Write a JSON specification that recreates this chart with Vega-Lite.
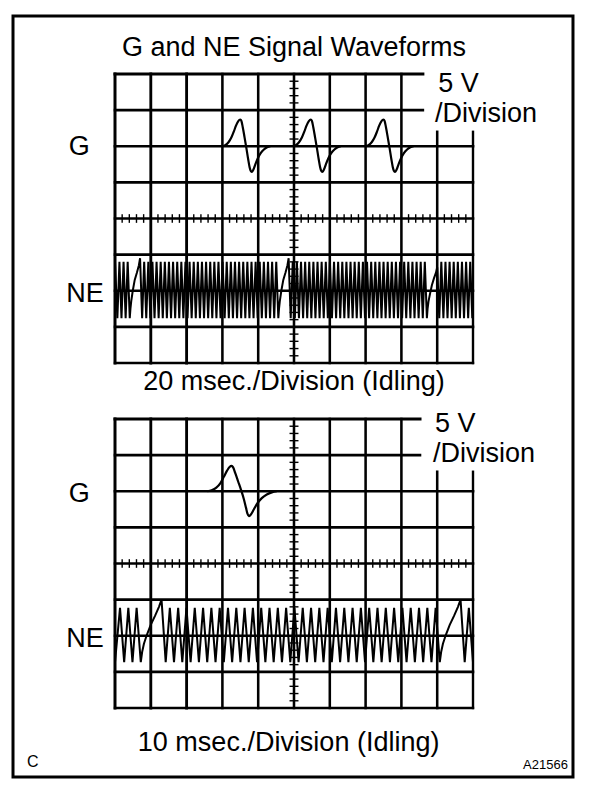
{
 "$schema": "https://vega.github.io/schema/vega-lite/v6.json",
 "width": 608, "height": 786,
 "autosize": {"type": "fit", "contains": "padding"},
 "padding": 0,
 "background": "white",
 "config": {"view": {"stroke": null}},
 "datasets": {
  "frame": [{"x": -2.849, "x2": 12.793, "y": -1.91, "y2": 19.156}],
  "grid": [
   {"x":0,"x2":0,"y":9.55,"y2":17.55,"k":"edge"},
   {"x":1,"x2":1,"y":9.55,"y2":17.55,"k":"major"},
   {"x":2,"x2":2,"y":9.55,"y2":17.55,"k":"major"},
   {"x":3,"x2":3,"y":9.55,"y2":17.55,"k":"grid"},
   {"x":4,"x2":4,"y":9.55,"y2":17.55,"k":"grid"},
   {"x":5,"x2":5,"y":9.55,"y2":17.55,"k":"grid"},
   {"x":6,"x2":6,"y":9.55,"y2":17.55,"k":"grid"},
   {"x":7,"x2":7,"y":9.55,"y2":17.55,"k":"grid"},
   {"x":8,"x2":8,"y":9.55,"y2":17.55,"k":"grid"},
   {"x":9,"x2":9,"y":9.55,"y2":15.95,"k":"grid"},
   {"x":10,"x2":10,"y":9.55,"y2":15.95,"k":"edge2"},
   {"x":0,"x2":8.6,"y":17.55,"y2":17.55,"k":"edge"},
   {"x":0,"x2":8.6,"y":16.55,"y2":16.55,"k":"grid"},
   {"x":0,"x2":10,"y":15.55,"y2":15.55,"k":"base"},
   {"x":0,"x2":10,"y":14.55,"y2":14.55,"k":"grid"},
   {"x":0,"x2":10,"y":13.55,"y2":13.55,"k":"grid"},
   {"x":0,"x2":10,"y":12.55,"y2":12.55,"k":"grid"},
   {"x":0,"x2":10,"y":11.55,"y2":11.55,"k":"grid"},
   {"x":0,"x2":10,"y":10.55,"y2":10.55,"k":"grid"},
   {"x":0,"x2":10,"y":9.55,"y2":9.55,"k":"edge2"},
   {"x":0,"x2":0,"y":0,"y2":8,"k":"edge"},
   {"x":1,"x2":1,"y":0,"y2":8,"k":"major"},
   {"x":2,"x2":2,"y":0,"y2":8,"k":"major"},
   {"x":3,"x2":3,"y":0,"y2":8,"k":"grid"},
   {"x":4,"x2":4,"y":0,"y2":8,"k":"grid"},
   {"x":5,"x2":5,"y":0,"y2":8,"k":"grid"},
   {"x":6,"x2":6,"y":0,"y2":8,"k":"grid"},
   {"x":7,"x2":7,"y":0,"y2":8,"k":"grid"},
   {"x":8,"x2":8,"y":0,"y2":8,"k":"grid"},
   {"x":9,"x2":9,"y":0,"y2":6.54,"k":"grid"},
   {"x":10,"x2":10,"y":0,"y2":6.54,"k":"edge2"},
   {"x":0,"x2":8.52,"y":8,"y2":8,"k":"edge"},
   {"x":0,"x2":8.52,"y":7,"y2":7,"k":"grid"},
   {"x":0,"x2":10,"y":6,"y2":6,"k":"base"},
   {"x":0,"x2":10,"y":5,"y2":5,"k":"grid"},
   {"x":0,"x2":10,"y":4,"y2":4,"k":"grid"},
   {"x":0,"x2":10,"y":3,"y2":3,"k":"grid"},
   {"x":0,"x2":10,"y":2,"y2":2,"k":"grid"},
   {"x":0,"x2":10,"y":1,"y2":1,"k":"grid"},
   {"x":0,"x2":10,"y":0,"y2":0,"k":"edge2"}
  ],
  "vt": [
   {"x":4.875,"x2":5.125,"y":0.2},{"x":4.875,"x2":5.125,"y":0.4},{"x":4.875,"x2":5.125,"y":0.6},{"x":4.875,"x2":5.125,"y":0.8},
   {"x":4.875,"x2":5.125,"y":1.2},{"x":4.875,"x2":5.125,"y":1.4},{"x":4.875,"x2":5.125,"y":1.6},{"x":4.875,"x2":5.125,"y":1.8},
   {"x":4.875,"x2":5.125,"y":2.2},{"x":4.875,"x2":5.125,"y":2.4},{"x":4.875,"x2":5.125,"y":2.6},{"x":4.875,"x2":5.125,"y":2.8},
   {"x":4.875,"x2":5.125,"y":3.2},{"x":4.875,"x2":5.125,"y":3.4},{"x":4.875,"x2":5.125,"y":3.6},{"x":4.875,"x2":5.125,"y":3.8},
   {"x":4.875,"x2":5.125,"y":4.2},{"x":4.875,"x2":5.125,"y":4.4},{"x":4.875,"x2":5.125,"y":4.6},{"x":4.875,"x2":5.125,"y":4.8},
   {"x":4.875,"x2":5.125,"y":5.2},{"x":4.875,"x2":5.125,"y":5.4},{"x":4.875,"x2":5.125,"y":5.6},{"x":4.875,"x2":5.125,"y":5.8},
   {"x":4.875,"x2":5.125,"y":6.2},{"x":4.875,"x2":5.125,"y":6.4},{"x":4.875,"x2":5.125,"y":6.6},{"x":4.875,"x2":5.125,"y":6.8},
   {"x":4.875,"x2":5.125,"y":7.2},{"x":4.875,"x2":5.125,"y":7.4},{"x":4.875,"x2":5.125,"y":7.6},{"x":4.875,"x2":5.125,"y":7.8},
   {"x":4.875,"x2":5.125,"y":9.75},{"x":4.875,"x2":5.125,"y":9.95},{"x":4.875,"x2":5.125,"y":10.15},{"x":4.875,"x2":5.125,"y":10.35},
   {"x":4.875,"x2":5.125,"y":10.75},{"x":4.875,"x2":5.125,"y":10.95},{"x":4.875,"x2":5.125,"y":11.15},{"x":4.875,"x2":5.125,"y":11.35},
   {"x":4.875,"x2":5.125,"y":11.75},{"x":4.875,"x2":5.125,"y":11.95},{"x":4.875,"x2":5.125,"y":12.15},{"x":4.875,"x2":5.125,"y":12.35},
   {"x":4.875,"x2":5.125,"y":12.75},{"x":4.875,"x2":5.125,"y":12.95},{"x":4.875,"x2":5.125,"y":13.15},{"x":4.875,"x2":5.125,"y":13.35},
   {"x":4.875,"x2":5.125,"y":13.75},{"x":4.875,"x2":5.125,"y":13.95},{"x":4.875,"x2":5.125,"y":14.15},{"x":4.875,"x2":5.125,"y":14.35},
   {"x":4.875,"x2":5.125,"y":14.75},{"x":4.875,"x2":5.125,"y":14.95},{"x":4.875,"x2":5.125,"y":15.15},{"x":4.875,"x2":5.125,"y":15.35},
   {"x":4.875,"x2":5.125,"y":15.75},{"x":4.875,"x2":5.125,"y":15.95},{"x":4.875,"x2":5.125,"y":16.15},{"x":4.875,"x2":5.125,"y":16.35},
   {"x":4.875,"x2":5.125,"y":16.75},{"x":4.875,"x2":5.125,"y":16.95},{"x":4.875,"x2":5.125,"y":17.15},{"x":4.875,"x2":5.125,"y":17.35}
  ],
  "ht": [
   {"x":0.2,"y":13.43,"y2":13.67},{"x":0.4,"y":13.43,"y2":13.67},{"x":0.6,"y":13.43,"y2":13.67},{"x":0.8,"y":13.43,"y2":13.67},
   {"x":1.2,"y":13.43,"y2":13.67},{"x":1.4,"y":13.43,"y2":13.67},{"x":1.6,"y":13.43,"y2":13.67},{"x":1.8,"y":13.43,"y2":13.67},
   {"x":2.2,"y":13.43,"y2":13.67},{"x":2.4,"y":13.43,"y2":13.67},{"x":2.6,"y":13.43,"y2":13.67},{"x":2.8,"y":13.43,"y2":13.67},
   {"x":3.2,"y":13.43,"y2":13.67},{"x":3.4,"y":13.43,"y2":13.67},{"x":3.6,"y":13.43,"y2":13.67},{"x":3.8,"y":13.43,"y2":13.67},
   {"x":4.2,"y":13.43,"y2":13.67},{"x":4.4,"y":13.43,"y2":13.67},{"x":4.6,"y":13.43,"y2":13.67},{"x":4.8,"y":13.43,"y2":13.67},
   {"x":5.2,"y":13.43,"y2":13.67},{"x":5.4,"y":13.43,"y2":13.67},{"x":5.6,"y":13.43,"y2":13.67},{"x":5.8,"y":13.43,"y2":13.67},
   {"x":6.2,"y":13.43,"y2":13.67},{"x":6.4,"y":13.43,"y2":13.67},{"x":6.6,"y":13.43,"y2":13.67},{"x":6.8,"y":13.43,"y2":13.67},
   {"x":7.2,"y":13.43,"y2":13.67},{"x":7.4,"y":13.43,"y2":13.67},{"x":7.6,"y":13.43,"y2":13.67},{"x":7.8,"y":13.43,"y2":13.67},
   {"x":8.2,"y":13.43,"y2":13.67},{"x":8.4,"y":13.43,"y2":13.67},{"x":8.6,"y":13.43,"y2":13.67},{"x":8.8,"y":13.43,"y2":13.67},
   {"x":9.2,"y":13.43,"y2":13.67},{"x":9.4,"y":13.43,"y2":13.67},{"x":9.6,"y":13.43,"y2":13.67},{"x":9.8,"y":13.43,"y2":13.67},
   {"x":0.2,"y":3.88,"y2":4.12},{"x":0.4,"y":3.88,"y2":4.12},{"x":0.6,"y":3.88,"y2":4.12},{"x":0.8,"y":3.88,"y2":4.12},
   {"x":1.2,"y":3.88,"y2":4.12},{"x":1.4,"y":3.88,"y2":4.12},{"x":1.6,"y":3.88,"y2":4.12},{"x":1.8,"y":3.88,"y2":4.12},
   {"x":2.2,"y":3.88,"y2":4.12},{"x":2.4,"y":3.88,"y2":4.12},{"x":2.6,"y":3.88,"y2":4.12},{"x":2.8,"y":3.88,"y2":4.12},
   {"x":3.2,"y":3.88,"y2":4.12},{"x":3.4,"y":3.88,"y2":4.12},{"x":3.6,"y":3.88,"y2":4.12},{"x":3.8,"y":3.88,"y2":4.12},
   {"x":4.2,"y":3.88,"y2":4.12},{"x":4.4,"y":3.88,"y2":4.12},{"x":4.6,"y":3.88,"y2":4.12},{"x":4.8,"y":3.88,"y2":4.12},
   {"x":5.2,"y":3.88,"y2":4.12},{"x":5.4,"y":3.88,"y2":4.12},{"x":5.6,"y":3.88,"y2":4.12},{"x":5.8,"y":3.88,"y2":4.12},
   {"x":6.2,"y":3.88,"y2":4.12},{"x":6.4,"y":3.88,"y2":4.12},{"x":6.6,"y":3.88,"y2":4.12},{"x":6.8,"y":3.88,"y2":4.12},
   {"x":7.2,"y":3.88,"y2":4.12},{"x":7.4,"y":3.88,"y2":4.12},{"x":7.6,"y":3.88,"y2":4.12},{"x":7.8,"y":3.88,"y2":4.12},
   {"x":8.2,"y":3.88,"y2":4.12},{"x":8.4,"y":3.88,"y2":4.12},{"x":8.6,"y":3.88,"y2":4.12},{"x":8.8,"y":3.88,"y2":4.12},
   {"x":9.2,"y":3.88,"y2":4.12},{"x":9.4,"y":3.88,"y2":4.12},{"x":9.6,"y":3.88,"y2":4.12},{"x":9.8,"y":3.88,"y2":4.12}
  ],
  "g": [
   {"p":1,"x":3.00,"y":15.55},{"p":1,"x":3.08,"y":15.58},{"p":1,"x":3.17,"y":15.66},{"p":1,"x":3.25,"y":15.79},{"p":1,"x":3.32,"y":15.96},{"p":1,"x":3.38,"y":16.12},{"p":1,"x":3.44,"y":16.24},{"p":1,"x":3.50,"y":16.29},{"p":1,"x":3.53,"y":16.25},{"p":1,"x":3.57,"y":16.07},{"p":1,"x":3.62,"y":15.79},{"p":1,"x":3.67,"y":15.50},{"p":1,"x":3.72,"y":15.19},{"p":1,"x":3.76,"y":14.97},{"p":1,"x":3.79,"y":14.87},{"p":1,"x":3.82,"y":14.84},{"p":1,"x":3.86,"y":14.89},{"p":1,"x":3.92,"y":15.05},{"p":1,"x":3.99,"y":15.22},{"p":1,"x":4.07,"y":15.36},{"p":1,"x":4.16,"y":15.46},{"p":1,"x":4.25,"y":15.52},{"p":1,"x":4.34,"y":15.55},
   {"p":2,"x":4.97,"y":15.55},{"p":2,"x":5.05,"y":15.58},{"p":2,"x":5.14,"y":15.66},{"p":2,"x":5.22,"y":15.79},{"p":2,"x":5.29,"y":15.96},{"p":2,"x":5.35,"y":16.12},{"p":2,"x":5.41,"y":16.24},{"p":2,"x":5.47,"y":16.29},{"p":2,"x":5.50,"y":16.25},{"p":2,"x":5.54,"y":16.07},{"p":2,"x":5.59,"y":15.79},{"p":2,"x":5.64,"y":15.50},{"p":2,"x":5.69,"y":15.19},{"p":2,"x":5.73,"y":14.97},{"p":2,"x":5.76,"y":14.87},{"p":2,"x":5.79,"y":14.84},{"p":2,"x":5.83,"y":14.89},{"p":2,"x":5.89,"y":15.05},{"p":2,"x":5.96,"y":15.22},{"p":2,"x":6.04,"y":15.36},{"p":2,"x":6.13,"y":15.46},{"p":2,"x":6.22,"y":15.52},{"p":2,"x":6.31,"y":15.55},
   {"p":3,"x":7.00,"y":15.55},{"p":3,"x":7.08,"y":15.58},{"p":3,"x":7.17,"y":15.66},{"p":3,"x":7.25,"y":15.79},{"p":3,"x":7.32,"y":15.96},{"p":3,"x":7.38,"y":16.12},{"p":3,"x":7.44,"y":16.24},{"p":3,"x":7.50,"y":16.29},{"p":3,"x":7.53,"y":16.25},{"p":3,"x":7.57,"y":16.07},{"p":3,"x":7.62,"y":15.79},{"p":3,"x":7.67,"y":15.50},{"p":3,"x":7.72,"y":15.19},{"p":3,"x":7.76,"y":14.97},{"p":3,"x":7.79,"y":14.87},{"p":3,"x":7.82,"y":14.84},{"p":3,"x":7.86,"y":14.89},{"p":3,"x":7.92,"y":15.05},{"p":3,"x":7.99,"y":15.22},{"p":3,"x":8.07,"y":15.36},{"p":3,"x":8.16,"y":15.46},{"p":3,"x":8.25,"y":15.52},{"p":3,"x":8.34,"y":15.55},
   {"p":4,"x":2.58,"y":6.00},{"p":4,"x":2.70,"y":6.03},{"p":4,"x":2.83,"y":6.10},{"p":4,"x":2.94,"y":6.22},{"p":4,"x":3.04,"y":6.40},{"p":4,"x":3.13,"y":6.57},{"p":4,"x":3.20,"y":6.67},{"p":4,"x":3.26,"y":6.70},{"p":4,"x":3.30,"y":6.66},{"p":4,"x":3.36,"y":6.50},{"p":4,"x":3.44,"y":6.27},{"p":4,"x":3.52,"y":6.04},{"p":4,"x":3.60,"y":5.78},{"p":4,"x":3.66,"y":5.54},{"p":4,"x":3.70,"y":5.38},{"p":4,"x":3.74,"y":5.31},{"p":4,"x":3.79,"y":5.35},{"p":4,"x":3.88,"y":5.50},{"p":4,"x":3.98,"y":5.67},{"p":4,"x":4.10,"y":5.81},{"p":4,"x":4.24,"y":5.91},{"p":4,"x":4.38,"y":5.97},{"p":4,"x":4.52,"y":6.00}
  ],
  "neTop": [
   {"x":0.000,"y":12.35},{"x":0.066,"y":10.79},{"x":0.124,"y":12.35},{"x":0.181,"y":10.79},{"x":0.239,"y":12.35},{"x":0.297,"y":10.79},{"x":0.354,"y":12.35},{"x":0.412,"y":10.79},
   {"x":0.431,"y":11.05},{"x":0.456,"y":11.28},{"x":0.496,"y":11.55},{"x":0.551,"y":11.85},{"x":0.611,"y":12.05},{"x":0.666,"y":12.25},{"x":0.700,"y":12.45},
   {"x":0.758,"y":10.79},{"x":0.815,"y":12.35},{"x":0.873,"y":10.79},{"x":0.931,"y":12.35},{"x":0.988,"y":10.79},{"x":1.046,"y":12.35},{"x":1.104,"y":10.79},{"x":1.161,"y":12.35},{"x":1.219,"y":10.79},{"x":1.276,"y":12.35},
   {"x":1.334,"y":10.79},{"x":1.392,"y":12.35},{"x":1.449,"y":10.79},{"x":1.507,"y":12.35},{"x":1.565,"y":10.79},{"x":1.622,"y":12.35},{"x":1.680,"y":10.79},{"x":1.738,"y":12.35},{"x":1.795,"y":10.79},{"x":1.853,"y":12.35},
   {"x":1.910,"y":10.79},{"x":1.968,"y":12.35},{"x":2.026,"y":10.79},{"x":2.083,"y":12.35},{"x":2.141,"y":10.79},{"x":2.199,"y":12.35},{"x":2.256,"y":10.79},{"x":2.314,"y":12.35},{"x":2.372,"y":10.79},{"x":2.429,"y":12.35},
   {"x":2.487,"y":10.79},{"x":2.544,"y":12.35},{"x":2.602,"y":10.79},{"x":2.660,"y":12.35},{"x":2.717,"y":10.79},{"x":2.775,"y":12.35},{"x":2.833,"y":10.79},{"x":2.890,"y":12.35},{"x":2.948,"y":10.79},{"x":3.006,"y":12.35},
   {"x":3.063,"y":10.79},{"x":3.121,"y":12.35},{"x":3.179,"y":10.79},{"x":3.236,"y":12.35},{"x":3.294,"y":10.79},{"x":3.351,"y":12.35},{"x":3.409,"y":10.79},{"x":3.467,"y":12.35},{"x":3.524,"y":10.79},{"x":3.582,"y":12.35},
   {"x":3.640,"y":10.79},{"x":3.697,"y":12.35},{"x":3.755,"y":10.79},{"x":3.813,"y":12.35},{"x":3.870,"y":10.79},{"x":3.928,"y":12.35},{"x":3.985,"y":10.79},{"x":4.043,"y":12.35},{"x":4.101,"y":10.79},{"x":4.158,"y":12.35},
   {"x":4.216,"y":10.79},{"x":4.274,"y":12.35},{"x":4.331,"y":10.79},{"x":4.389,"y":12.35},{"x":4.447,"y":10.79},{"x":4.504,"y":12.35},{"x":4.562,"y":10.79},
   {"x":4.581,"y":11.05},{"x":4.606,"y":11.28},{"x":4.646,"y":11.55},{"x":4.701,"y":11.85},{"x":4.761,"y":12.05},{"x":4.816,"y":12.25},{"x":4.850,"y":12.45},
   {"x":4.908,"y":10.79},{"x":4.965,"y":12.35},{"x":5.023,"y":10.79},{"x":5.081,"y":12.35},{"x":5.138,"y":10.79},{"x":5.196,"y":12.35},{"x":5.254,"y":10.79},{"x":5.311,"y":12.35},{"x":5.369,"y":10.79},{"x":5.426,"y":12.35},
   {"x":5.484,"y":10.79},{"x":5.542,"y":12.35},{"x":5.599,"y":10.79},{"x":5.657,"y":12.35},{"x":5.715,"y":10.79},{"x":5.772,"y":12.35},{"x":5.830,"y":10.79},{"x":5.888,"y":12.35},{"x":5.945,"y":10.79},{"x":6.003,"y":12.35},
   {"x":6.060,"y":10.79},{"x":6.118,"y":12.35},{"x":6.176,"y":10.79},{"x":6.233,"y":12.35},{"x":6.291,"y":10.79},{"x":6.349,"y":12.35},{"x":6.406,"y":10.79},{"x":6.464,"y":12.35},{"x":6.522,"y":10.79},{"x":6.579,"y":12.35},
   {"x":6.637,"y":10.79},{"x":6.694,"y":12.35},{"x":6.752,"y":10.79},{"x":6.810,"y":12.35},{"x":6.867,"y":10.79},{"x":6.925,"y":12.35},{"x":6.983,"y":10.79},{"x":7.040,"y":12.35},{"x":7.098,"y":10.79},{"x":7.156,"y":12.35},
   {"x":7.213,"y":10.79},{"x":7.271,"y":12.35},{"x":7.329,"y":10.79},{"x":7.386,"y":12.35},{"x":7.444,"y":10.79},{"x":7.501,"y":12.35},{"x":7.559,"y":10.79},{"x":7.617,"y":12.35},{"x":7.674,"y":10.79},{"x":7.732,"y":12.35},
   {"x":7.790,"y":10.79},{"x":7.847,"y":12.35},{"x":7.905,"y":10.79},{"x":7.963,"y":12.35},{"x":8.020,"y":10.79},{"x":8.078,"y":12.35},{"x":8.135,"y":10.79},{"x":8.193,"y":12.35},{"x":8.251,"y":10.79},{"x":8.308,"y":12.35},
   {"x":8.366,"y":10.79},{"x":8.424,"y":12.35},{"x":8.481,"y":10.79},{"x":8.539,"y":12.35},{"x":8.597,"y":10.79},{"x":8.654,"y":12.35},{"x":8.712,"y":10.79},
   {"x":8.731,"y":11.05},{"x":8.756,"y":11.25},{"x":8.796,"y":11.45},{"x":8.851,"y":11.70},{"x":8.911,"y":11.90},{"x":8.966,"y":12.05},{"x":9.000,"y":12.20},
   {"x":9.058,"y":10.79},{"x":9.115,"y":12.35},{"x":9.173,"y":10.79},{"x":9.231,"y":12.35},{"x":9.288,"y":10.79},{"x":9.346,"y":12.35},{"x":9.404,"y":10.79},{"x":9.461,"y":12.35},{"x":9.519,"y":10.79},{"x":9.576,"y":12.35},
   {"x":9.634,"y":10.79},{"x":9.692,"y":12.35},{"x":9.749,"y":10.79},{"x":9.807,"y":12.35},{"x":9.865,"y":10.79},{"x":9.922,"y":12.35},{"x":9.980,"y":10.79},{"x":10.000,"y":11.30}
  ],
  "neBot": [
   {"x":0.000,"y":1.27},{"x":0.140,"y":2.77},{"x":0.256,"y":1.27},{"x":0.372,"y":2.77},{"x":0.488,"y":1.27},{"x":0.604,"y":2.77},{"x":0.720,"y":1.27},
   {"x":0.758,"y":1.55},{"x":0.808,"y":1.78},{"x":0.888,"y":2.02},{"x":0.998,"y":2.30},{"x":1.118,"y":2.55},{"x":1.228,"y":2.80},{"x":1.300,"y":3.00},
   {"x":1.416,"y":1.27},{"x":1.532,"y":2.77},{"x":1.648,"y":1.27},{"x":1.764,"y":2.77},{"x":1.880,"y":1.27},{"x":1.996,"y":2.77},{"x":2.112,"y":1.27},{"x":2.228,"y":2.77},{"x":2.344,"y":1.27},{"x":2.460,"y":2.77},
   {"x":2.576,"y":1.27},{"x":2.692,"y":2.77},{"x":2.808,"y":1.27},{"x":2.924,"y":2.77},{"x":3.040,"y":1.27},{"x":3.156,"y":2.77},{"x":3.272,"y":1.27},{"x":3.388,"y":2.77},{"x":3.504,"y":1.27},{"x":3.620,"y":2.77},
   {"x":3.736,"y":1.27},{"x":3.852,"y":2.77},{"x":3.968,"y":1.27},{"x":4.084,"y":2.77},{"x":4.200,"y":1.27},{"x":4.316,"y":2.77},{"x":4.432,"y":1.27},{"x":4.548,"y":2.77},{"x":4.664,"y":1.27},{"x":4.780,"y":2.77},
   {"x":4.896,"y":1.27},{"x":5.012,"y":2.77},{"x":5.128,"y":1.27},{"x":5.244,"y":2.77},{"x":5.360,"y":1.27},{"x":5.476,"y":2.77},{"x":5.592,"y":1.27},{"x":5.708,"y":2.77},{"x":5.824,"y":1.27},{"x":5.940,"y":2.77},
   {"x":6.056,"y":1.27},{"x":6.172,"y":2.77},{"x":6.288,"y":1.27},{"x":6.404,"y":2.77},{"x":6.520,"y":1.27},{"x":6.636,"y":2.77},{"x":6.752,"y":1.27},{"x":6.868,"y":2.77},{"x":6.984,"y":1.27},{"x":7.100,"y":2.77},
   {"x":7.216,"y":1.27},{"x":7.332,"y":2.77},{"x":7.448,"y":1.27},{"x":7.564,"y":2.77},{"x":7.680,"y":1.27},{"x":7.796,"y":2.77},{"x":7.912,"y":1.27},{"x":8.028,"y":2.77},{"x":8.144,"y":1.27},{"x":8.260,"y":2.77},
   {"x":8.376,"y":1.27},{"x":8.492,"y":2.77},{"x":8.608,"y":1.27},{"x":8.724,"y":2.77},{"x":8.840,"y":1.27},{"x":8.956,"y":2.77},{"x":9.072,"y":1.27},
   {"x":9.110,"y":1.55},{"x":9.160,"y":1.78},{"x":9.240,"y":2.02},{"x":9.350,"y":2.30},{"x":9.470,"y":2.55},{"x":9.580,"y":2.80},{"x":9.652,"y":3.00},
   {"x":9.768,"y":1.27},{"x":9.884,"y":2.77},{"x":10.000,"y":1.27}
  ],
  "tc": [
   {"x":5.0,"y":18.05,"t":"G and NE Signal Waveforms"},
   {"x":5.0,"y":8.80,"t":"20 msec./Division (Idling)"},
   {"x":4.85,"y":-1.18,"t":"10 msec./Division (Idling)"},
   {"x":-1.0,"y":15.31,"t":"G"},
   {"x":-0.84,"y":11.24,"t":"NE"},
   {"x":-1.0,"y":5.70,"t":"G"},
   {"x":-0.84,"y":1.69,"t":"NE"}
  ],
  "tl": [
   {"x":9.03,"y":17.06,"t":"5 V"},
   {"x":8.94,"y":16.23,"t":"/Division"},
   {"x":8.94,"y":7.64,"t":"5 V"},
   {"x":8.88,"y":6.81,"t":"/Division"}
  ],
  "tcode": [{"x":-2.46,"y":-1.63,"t":"C"}],
  "tref": [{"x":12.65,"y":-1.69,"t":"A21566"}]
 },
 "encoding": {
  "x": {"field": "x", "type": "quantitative", "scale": {"domain": [-3.2123, 13.7709], "nice": false, "zero": false}, "axis": null},
  "y": {"field": "y", "type": "quantitative", "scale": {"domain": [-2.1592, 19.5986], "nice": false, "zero": false}, "axis": null}
 },
 "layer": [
  {"data": {"name": "frame"}, "mark": {"type": "rect", "fillOpacity": 0, "stroke": "black", "strokeWidth": 3},
   "encoding": {"x2": {"field": "x2"}, "y2": {"field": "y2"}}},
  {"data": {"name": "grid"}, "mark": {"type": "rule", "color": "black", "strokeCap": "square"},
   "encoding": {"x2": {"field": "x2"}, "y2": {"field": "y2"},
    "strokeWidth": {"field": "k", "type": "nominal", "scale": {"domain": ["edge", "major", "base", "grid", "edge2"], "range": [3, 2.4, 2.6, 1.3, 1.8]}, "legend": null}}},
  {"data": {"name": "vt"}, "mark": {"type": "rule", "color": "black", "strokeWidth": 1.4},
   "encoding": {"x2": {"field": "x2"}}},
  {"data": {"name": "ht"}, "mark": {"type": "rule", "color": "black", "strokeWidth": 1.4},
   "encoding": {"y2": {"field": "y2"}}},
  {"data": {"name": "neTop"}, "mark": {"type": "line", "color": "black", "strokeWidth": 2}, "encoding": {}},
  {"data": {"name": "neBot"}, "mark": {"type": "line", "color": "black", "strokeWidth": 2}, "encoding": {}},
  {"data": {"name": "g"}, "mark": {"type": "line", "color": "black", "strokeWidth": 2.2, "interpolate": "monotone"},
   "encoding": {"detail": {"field": "p", "type": "nominal"}}},
  {"data": {"name": "tc"}, "mark": {"type": "text", "align": "center", "baseline": "alphabetic", "font": "Liberation Sans", "fontSize": 27, "color": "black"},
   "encoding": {"text": {"field": "t"}}},
  {"data": {"name": "tl"}, "mark": {"type": "text", "align": "left", "baseline": "alphabetic", "font": "Liberation Sans", "fontSize": 27, "color": "black"},
   "encoding": {"text": {"field": "t"}}},
  {"data": {"name": "tcode"}, "mark": {"type": "text", "align": "left", "baseline": "alphabetic", "font": "Liberation Sans", "fontSize": 16, "color": "black"},
   "encoding": {"text": {"field": "t"}}},
  {"data": {"name": "tref"}, "mark": {"type": "text", "align": "right", "baseline": "alphabetic", "font": "'Liberation Sans Narrow', 'Liberation Sans'", "fontSize": 13, "color": "black"},
   "encoding": {"text": {"field": "t"}}}
 ]
}
